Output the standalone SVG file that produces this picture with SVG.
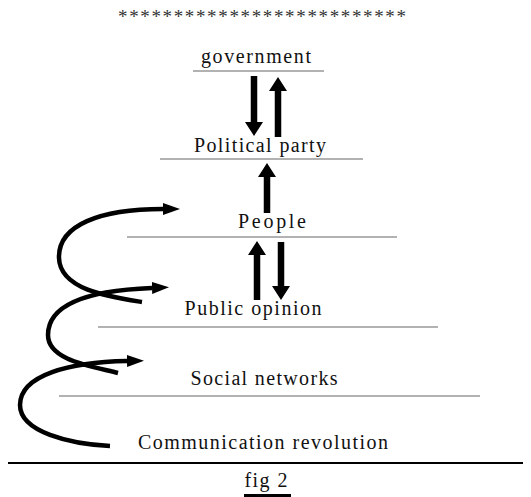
<svg xmlns="http://www.w3.org/2000/svg" width="531" height="497" viewBox="0 0 531 497">
<style>
.lbl{font-family:'Liberation Serif','Times New Roman',serif;font-size:20px;fill:#111;text-anchor:middle}
.rule{stroke:#666;stroke-width:1.2}
.arr{fill:#000}
.curve{fill:none;stroke:#000;stroke-width:4.5;stroke-linecap:butt}
</style>
<defs>
<marker id="tri" markerUnits="userSpaceOnUse" markerWidth="18" markerHeight="13" refX="0" refY="6" orient="auto">
<path d="M0,0 L17,6 L0,12 Z" fill="#000"/>
</marker>
</defs>
<rect width="531" height="497" fill="#fff"/>
<text x="118" y="23" font-family="'Liberation Serif', serif" font-size="19" fill="#333" textLength="288" lengthAdjust="spacing">**************************</text>

<g id="government">
<text class="lbl" font-family="'Liberation Serif', serif" x="256" y="63" textLength="110" lengthAdjust="spacing">government</text>
<line class="rule" x1="193" y1="71" x2="324" y2="71" stroke="#444" stroke-width="1.6"/>
</g>
<g id="political-party">
<text class="lbl" font-family="'Liberation Serif', serif" x="260" y="152" textLength="132" lengthAdjust="spacing">Political party</text>
<line class="rule" x1="160" y1="159" x2="363" y2="159"/>
</g>
<g id="people">
<text class="lbl" font-family="'Liberation Serif', serif" x="272" y="228" textLength="68" lengthAdjust="spacing">People</text>
<line class="rule" x1="127" y1="237" x2="397" y2="237"/>
</g>
<g id="public-opinion">
<text class="lbl" font-family="'Liberation Serif', serif" x="253" y="315" textLength="137" lengthAdjust="spacing">Public opinion</text>
<line class="rule" x1="98" y1="327" x2="438" y2="327" stroke="#333"/>
</g>
<g id="social-networks">
<text class="lbl" font-family="'Liberation Serif', serif" x="264" y="385" textLength="147" lengthAdjust="spacing">Social networks</text>
<line class="rule" x1="59" y1="396" x2="480" y2="396"/>
</g>
<g id="communication-revolution">
<text class="lbl" font-family="'Liberation Serif', serif" x="263" y="449" textLength="250" lengthAdjust="spacing">Communication revolution</text>
</g>
<line x1="8" y1="463" x2="523" y2="463" stroke="#000" stroke-width="2"/>
<g id="caption">
<text class="lbl" font-family="'Liberation Serif', serif" x="266" y="487" textLength="43" lengthAdjust="spacing">fig 2</text>
<rect x="244" y="494" width="47" height="3" fill="#000"/>
</g>

<g id="connectors">
<path class="arr" d="M250.75 76 L250.75 122 L245 122 L254 136 L263 122 L257.25 122 L257.25 76 Z"/>
<path class="arr" d="M274.75 137 L274.75 91 L269 91 L278 77 L287 91 L281.25 91 L281.25 137 Z"/>
<path class="arr" d="M263.75 213 L263.75 177 L258 177 L267 163 L276 177 L270.25 177 L270.25 213 Z"/>
<path class="arr" d="M253.75 300 L253.75 255 L248 255 L257 241 L266 255 L260.25 255 L260.25 300 Z"/>
<path class="arr" d="M277.75 242 L277.75 286 L272 286 L281 300 L290 286 L284.25 286 L284.25 242 Z"/>
<path class="curve" marker-end="url(#tri)" d="M142 302 C110 297 60 290 59 258 C58 225 100 209 163 209"/>
<path class="curve" marker-end="url(#tri)" d="M118 373 C90 366 48 360 48 335 C48 300 100 290 152 288"/>
<path class="curve" marker-end="url(#tri)" d="M110 446 C70 444 20 432 20 405 C20 375 70 362 127 361"/>
</g>
</svg>
